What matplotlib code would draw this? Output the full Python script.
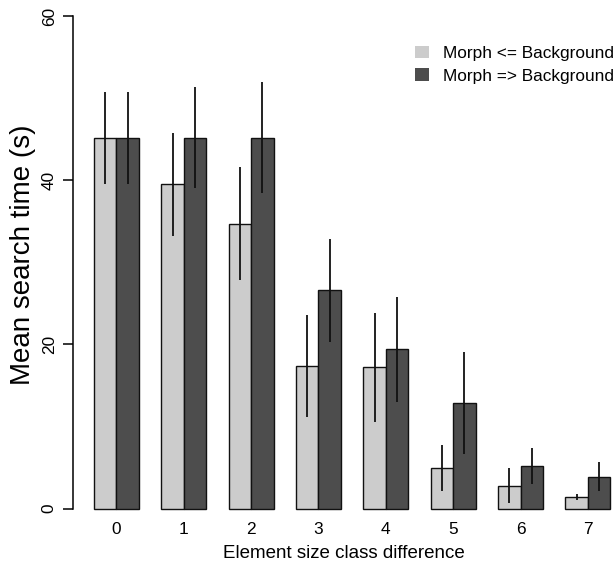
import numpy as np
import matplotlib.pyplot as plt
from matplotlib.patches import Patch

plt.rcParams['font.family'] = ['Liberation Sans', 'DejaVu Sans']

# values
size_diff = ['0', '1', '2', '3', '4', '5', '6', '7']
morph_le = [45.1, 39.5, 34.7, 17.4, 17.2, 4.95, 2.8, 1.4]
morph_le_err = [5.6, 6.3, 6.9, 6.2, 6.6, 2.75, 2.15, 0.35]
morph_ge = [45.1, 45.2, 45.2, 26.6, 19.4, 12.9, 5.2, 3.9]
morph_ge_err = [5.6, 6.15, 6.8, 6.3, 6.35, 6.2, 2.2, 1.8]
labels = ['Morph <= Background', 'Morph => Background']
col_le = '#cccccc'
col_ge = '#4d4d4d'

W, H = 615, 561
fig = plt.figure(figsize=(W / 100, H / 100), dpi=100)

# R barplot style: unit bar width, one unit gap between groups
x0, x1 = 0.05, 24.2
px_unit = 22.45
left_px = 71.55 + px_unit * x0
right_px = 71.55 + px_unit * x1
top_px, bot_px = 16.0, 508.7
ax = fig.add_axes([left_px / W, 1 - bot_px / H,
                   (right_px - left_px) / W, (bot_px - top_px) / H])

n = len(size_diff)
g = np.arange(n) * 3
x_le = g + 1.5
x_ge = g + 2.5

ax.bar(x_le, morph_le, width=1.0, color=col_le, edgecolor='#111111',
       linewidth=1.0, clip_on=False, zorder=2)
ax.bar(x_ge, morph_ge, width=1.0, color=col_ge, edgecolor='#111111',
       linewidth=1.0, clip_on=False, zorder=2)

le = np.array(morph_le)
ge = np.array(morph_ge)
ax.vlines(x_le, le - np.array(morph_le_err), le + np.array(morph_le_err),
          color='#111111', linewidth=1.3, zorder=3, clip_on=False)
ax.vlines(x_ge, ge - np.array(morph_ge_err), ge + np.array(morph_ge_err),
          color='#111111', linewidth=1.3, zorder=3, clip_on=False)

ax.set_xlim(x0, x1)
ax.set_ylim(0, 60)

for s in ['top', 'right', 'bottom']:
    ax.spines[s].set_visible(False)
ax.spines['left'].set_bounds(0, 60)
ax.spines['left'].set_linewidth(1.1)

fs_tick = 12.4
ax.set_yticks([0, 20, 40, 60])
ax.set_yticklabels(['0', '20', '40', '60'], rotation=90, va='center',
                   fontsize=fs_tick)
ax.tick_params(axis='y', length=7.4, width=1.1, pad=4)

ax.set_xticks(g + 2)
ax.set_xticklabels(size_diff, fontsize=fs_tick)
ax.tick_params(axis='x', length=0, pad=9.5)

fig.text(344 / W, 1 - 553 / H, 'Element size class difference',
         fontsize=13.5, ha='center', va='center')
fig.text(23 / W, 1 - 255 / H, 'Mean search time (s)', fontsize=20,
         rotation=90, ha='center', va='center')

handles = [Patch(facecolor=col_le, edgecolor='none'),
           Patch(facecolor=col_ge, edgecolor='none')]
fig.legend(handles, labels, loc='upper left',
           bbox_to_anchor=(415 / W, 1 - 46 / H), bbox_transform=fig.transFigure,
           frameon=False, fontsize=12.4, handlelength=0.8, handleheight=0.7,
           handletextpad=0.8, labelspacing=0.43, borderpad=0, borderaxespad=0)

fig.savefig('out.png', dpi=100)
